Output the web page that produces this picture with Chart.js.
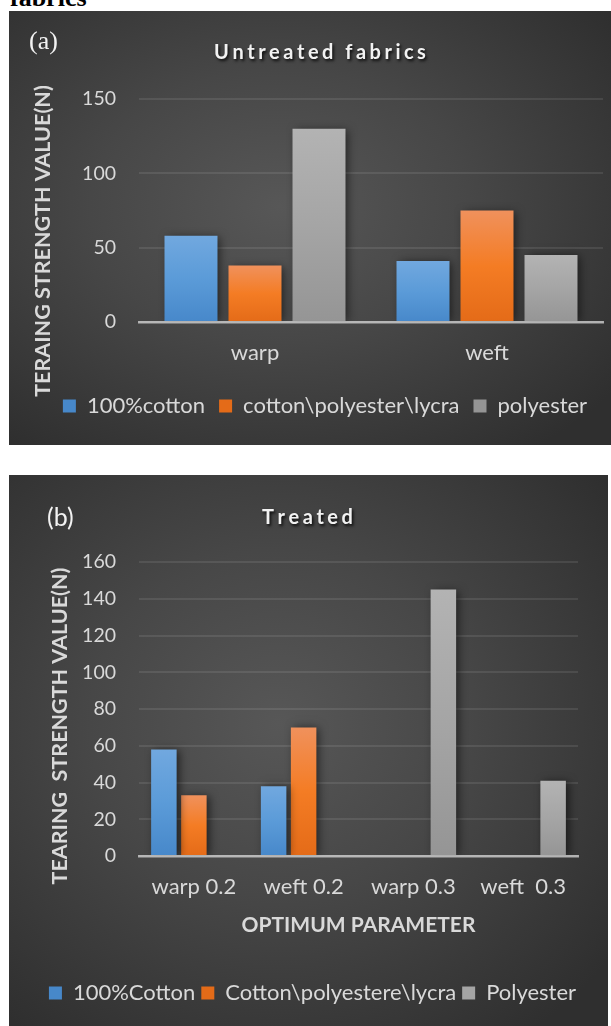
<!DOCTYPE html>
<html>
<head>
<meta charset="utf-8">
<script src="https://cdn.jsdelivr.net/npm/chart.js@4.4.1/dist/chart.umd.min.js"></script>
<style>
  html, body { margin: 0; padding: 0; background: #ffffff; width: 611px; height: 1026px; overflow: hidden; position: relative; }
  .heading { position: absolute; left: 10px; top: -15px; font: bold 26px "Liberation Serif", "Times New Roman", serif; line-height: 26px; color: #000; }
  .panel { position: absolute; background: radial-gradient(ellipse 70% 70% at 45% 45%, #575757 0%, #474747 45%, #2f2f2f 100%); }
  .panel canvas { display: block; }
</style>
</head>
<body>
<div class="heading">fabrics</div>
<div class="panel" style="left:9px;top:11px;width:602px;height:434px"><canvas id="chartA" width="602" height="434"></canvas></div>
<div class="panel" style="left:9px;top:475px;width:599px;height:551px"><canvas id="chartB" width="599" height="551"></canvas></div>
<script>
// ---- (a) untreated fabrics ----
const untreatedCategories = ['warp', 'weft'];
const untreatedSeries = ['100%cotton', 'cotton\\polyester\\lycra', 'polyester'];
const untreatedCotton = [58, 41];
const untreatedBlend = [38, 75];
const untreatedPolyester = [130, 45];
const untreatedTicks = [0, 50, 100, 150];
const untreatedTitle = 'Untreated fabrics';
const untreatedYTitle = 'TERAING STRENGTH VALUE(N)';

// ---- (b) treated fabrics ----
const treatedCategories = ['warp 0.2', 'weft 0.2', 'warp 0.3', 'weft  0.3'];
const treatedSeries = ['100%Cotton', 'Cotton\\polyestere\\lycra', 'Polyester'];
const treatedCotton = [58, 38, null, null];
const treatedBlend = [33, 70, null, null];
const treatedPolyester = [null, null, 145, 41];
const treatedTicks = [0, 20, 40, 60, 80, 100, 120, 140, 160];
const treatedTitle = 'Treated';
const treatedYTitle = 'TEARING  STRENGTH VALUE(N)';
const treatedXTitle = 'OPTIMUM PARAMETER';

// bar fills: top, middle, bottom
const BLUE = ['#71a8df', '#5b9bd8', '#4788ca'];
const ORANGE = ['#f0915c', '#f47c24', '#e46b18'];
const GRAY = ['#b3b3b3', '#a5a5a5', '#959595'];
const TEXT = '#d9d9d9';

Chart.defaults.font.family = 'Lato, "Open Sans", sans-serif';
Chart.defaults.color = TEXT;

function barFill(stops) {
  return (ctx) => {
    const chart = ctx.chart;
    if (ctx.type !== 'data' || !chart.chartArea || ctx.raw == null) return stops[1];
    const y = chart.scales.y;
    const top = y.getPixelForValue(ctx.raw);
    const bottom = y.getPixelForValue(0);
    if (!isFinite(top) || top === bottom) return stops[1];
    const g = chart.ctx.createLinearGradient(0, top, 0, bottom);
    g.addColorStop(0, stops[0]);
    g.addColorStop(0.5, stops[1]);
    g.addColorStop(1, stops[2]);
    return g;
  };
}

function fixedTicks(values) {
  return (scale) => { scale.ticks = values.map(v => ({ value: v })); };
}

// soft drop shadow under the bars
const barShadow = {
  id: 'barShadow',
  beforeDatasetsDraw(chart) {
    const c = chart.ctx;
    c.save();
    c.shadowColor = 'rgba(0,0,0,0.55)';
    c.shadowBlur = 9;
    c.shadowOffsetX = 3;
    c.shadowOffsetY = 1;
  },
  afterDatasetsDraw(chart) { chart.ctx.restore(); }
};

function drawSpaced(c, text, cx, cy, spacing) {
  const widths = [...text].map(ch => c.measureText(ch).width);
  const total = widths.reduce((a, b) => a + b, 0) + spacing * (widths.length - 1);
  let x = cx - total / 2;
  [...text].forEach((ch, i) => { c.fillText(ch, x, cy); x += widths[i] + spacing; });
}

// panel title, panel tag and vertical axis caption
const panelText = {
  id: 'panelText',
  afterDraw(chart, args, o) {
    const c = chart.ctx;
    c.save();
    c.font = 'bold 20px Lato, "Open Sans", sans-serif';
    c.fillStyle = '#f2f2f2';
    c.textAlign = 'left';
    c.textBaseline = 'middle';
    c.shadowColor = 'rgba(0,0,0,0.85)';
    c.shadowBlur = 3;
    c.shadowOffsetX = 1.5;
    c.shadowOffsetY = 2;
    drawSpaced(c, o.title, o.titleX, o.titleY, o.spacing);
    c.restore();

    c.save();
    c.font = o.tagFont;
    c.fillStyle = '#f2f2f2';
    c.textAlign = 'left';
    c.textBaseline = 'middle';
    c.fillText(o.tag, o.tagX, o.tagY);
    c.restore();

    c.save();
    c.translate(o.yTitleX, o.yTitleY);
    c.rotate(-Math.PI / 2);
    c.font = 'bold 21.5px Lato, "Open Sans", sans-serif';
    c.fillStyle = TEXT;
    c.textAlign = 'center';
    c.textBaseline = 'middle';
    c.fillText(o.yTitle, 0, 0);
    c.restore();
  }
};

// axis setup shared by both panels; yWidth/rightWidth pin the plot edges
function baseScales(ticks, xHeight, yWidth, rightWidth) {
  return {
    x: {
      grid: { display: false, drawTicks: false },
      border: { display: true, color: 'rgba(225,225,225,0.7)', width: 2.5, z: 1 },
      ticks: { font: { size: 22 }, color: TEXT, padding: 17.8 },
      afterFit: s => { s.height = xHeight; }
    },
    y: {
      min: ticks[0],
      max: ticks[ticks.length - 1],
      afterBuildTicks: fixedTicks(ticks),
      grid: { color: 'rgba(255,255,255,0.09)', lineWidth: 2, drawTicks: false },
      border: { display: false },
      ticks: { font: { size: 19.5 }, color: TEXT, padding: 23 },
      afterFit: s => { s.width = yWidth; }
    },
    yRight: {
      position: 'right',
      grid: { display: false, drawTicks: false },
      border: { display: false },
      ticks: { display: false },
      afterFit: s => { s.width = rightWidth; }
    }
  };
}

function legendOpts(pad) {
  return {
    position: 'bottom',
    labels: { boxWidth: 13, boxHeight: 13, padding: pad, font: { size: 22 }, color: TEXT }
  };
}

new Chart(document.getElementById('chartA'), {
  type: 'bar',
  data: {
    labels: untreatedCategories,
    datasets: [
      { label: untreatedSeries[0], data: untreatedCotton, backgroundColor: barFill(BLUE), yAxisID: 'y' },
      { label: untreatedSeries[1], data: untreatedBlend, backgroundColor: barFill(ORANGE), yAxisID: 'y' },
      { label: untreatedSeries[2], data: untreatedPolyester, backgroundColor: barFill(GRAY), yAxisID: 'y' }
    ]
  },
  options: {
    responsive: false,
    animation: false,
    devicePixelRatio: 1,
    layout: { padding: { left: 30, right: 0, top: 88, bottom: 18 } },
    datasets: { bar: { categoryPercentage: 0.8276, barPercentage: 0.828 } },
    scales: baseScales(untreatedTicks, 59, 100, 8),
    plugins: {
      legend: legendOpts(14),
      tooltip: { enabled: false },
      panelText: {
        title: untreatedTitle, titleX: 311, titleY: 42, spacing: 3.5,
        tag: '(a)', tagFont: '26px "Liberation Serif", serif', tagX: 20, tagY: 31,
        yTitle: untreatedYTitle, yTitleX: 34, yTitleY: 230
      }
    }
  },
  plugins: [barShadow, panelText]
});

const scalesB = baseScales(treatedTicks, 120, 122, 30);
scalesB.x.title = {
  display: true, text: treatedXTitle, color: TEXT,
  font: { size: 21, weight: 'bold' }, padding: { top: 0, bottom: 38.4 }
};

new Chart(document.getElementById('chartB'), {
  type: 'bar',
  data: {
    labels: treatedCategories,
    datasets: [
      { label: treatedSeries[0], data: treatedCotton, backgroundColor: barFill(BLUE), yAxisID: 'y' },
      { label: treatedSeries[1], data: treatedBlend, backgroundColor: barFill(ORANGE), yAxisID: 'y' },
      { label: treatedSeries[2], data: treatedPolyester, backgroundColor: barFill(GRAY), yAxisID: 'y' }
    ]
  },
  options: {
    responsive: false,
    animation: false,
    devicePixelRatio: 1,
    layout: { padding: { left: 8, right: 0, top: 87, bottom: 12 } },
    datasets: { bar: { categoryPercentage: 0.82, barPercentage: 0.85 } },
    scales: scalesB,
    plugins: {
      legend: legendOpts(6),
      tooltip: { enabled: false },
      panelText: {
        title: treatedTitle, titleX: 298.5, titleY: 43, spacing: 3.5,
        tag: '(b)', tagFont: '25px Lato, "Open Sans", sans-serif', tagX: 38, tagY: 43,
        yTitle: treatedYTitle, yTitleX: 51, yTitleY: 251
      }
    }
  },
  plugins: [barShadow, panelText]
});
</script>
</body>
</html>
